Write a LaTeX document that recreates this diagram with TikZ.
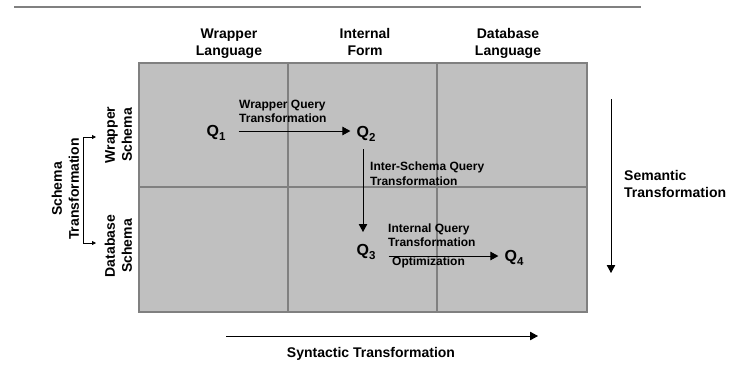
\documentclass[tikz,border=0pt]{standalone}
\usepackage{fontspec}
\setmainfont{Liberation Sans}
\usetikzlibrary{arrows.meta,calc}
\definecolor{cellgrey}{HTML}{C0C0C0}
\definecolor{gridgrey}{HTML}{808080}
\newcommand{\qsym}[1]{Q\raisebox{-4pt}{\fontsize{11.5}{11.5}\selectfont #1}}
\tikzset{
  big/.style={font=\bfseries\fontsize{14}{17}\selectfont, align=center, inner sep=0pt},
  small/.style={font=\bfseries\fontsize{12}{14.5}\selectfont, align=left, inner sep=0pt, anchor=west},
  qnode/.style={font=\bfseries\fontsize{16}{16}\selectfont, inner sep=1pt},
  arr/.style={black, line width=0.9pt, -{Triangle[length=8pt, width=8.5pt]}},
  tinyarr/.style={black, line width=0.8pt, -{Triangle[length=4pt, width=4pt]}},
  grid/.style={draw=gridgrey, line width=1.2pt}
}
\begin{document}
\begin{tikzpicture}[x=1pt, y=-1pt]
\useasboundingbox (0,0) rectangle (733,365);

% rule at the top
\draw[gridgrey, line width=2pt] (14,7) -- (641,7);

% the 3 x 2 grid of languages and schemas
\fill[cellgrey] (139,63) rectangle (587,312);
\draw[grid] (139,63) rectangle (587,312);
\draw[grid] (288,63) rectangle (437,312);
\draw[grid] (139,187) -- (587,187);

% column headings
\node[big] (hwl) at (229,43.5) {Wrapper\strut\\Language\strut};
\node[big] (hif) at (365,43.5) {Internal\strut\\Form\strut};
\node[big] (hdl) at (508,43.5) {Database\strut\\Language\strut};

% row headings
\node[big, rotate=90] (rws) at (120,135) {Wrapper\strut\\Schema\strut};
\node[big, rotate=90] (rds) at (120,246) {Database\strut\\Schema\strut};

% schema transformation bracket
\node[big, rotate=90] (st) at (67,189) {Schema\strut\\Transformation\strut};
\coordinate (bt) at (83,137);
\coordinate (bb) at (83,243);
\coordinate (bte) at (96,137);
\coordinate (bbe) at (96,243);
\draw[black, line width=0.8pt] (bt) -- (bb);
\draw[tinyarr] (bt) -- (bte);
\draw[tinyarr] (bb) -- (bbe);

% queries
\node[qnode] (q1) at (216,133) {\qsym{1}};
\node[qnode] (q2) at (366,134) {\qsym{2}};
\node[qnode] (q3) at (366,252) {\qsym{3}};
\node[qnode] (q4) at (514,258) {\qsym{4}};

\draw[arr] ($(q1.east |- 0,131)+(12,0)$) -- ($(q2.west |- 0,131)+(-5,0)$);
\draw[arr] ($(q2.south |- 0,149)+(-3,0)$) -- ($(q3.north |- 0,232)+(-3,0)$);
\draw[arr] ($(q3.east |- 0,256)+(12,0)$) -- ($(q4.west |- 0,256)+(-5,0)$);

% transformation labels
\node[small] (lwq) at (239,112.5) {Wrapper Query\strut\\Transformation\strut};
\node[small] (lis) at (370,175) {Inter-Schema Query\strut\\Transformation\strut};
\node[small] (liq) at (388,236.5) {Internal Query\strut\\Transformation\strut};
\node[small] (lop) at (392,262.5) {Optimization\strut};

% semantic axis
\coordinate (s1) at (611,99);
\coordinate (s2) at (611,273);
\draw[arr] (s1) -- (s2);
\node[big, align=left, anchor=west] (sem) at (624,185.5) {Semantic\strut\\Transformation\strut};

% syntactic axis
\coordinate (x1) at (226,336);
\coordinate (x2) at (538,336);
\draw[arr] (x1) -- (x2);
\node[big] (syn) at (371,354) {Syntactic Transformation\strut};
\end{tikzpicture}
\end{document}
